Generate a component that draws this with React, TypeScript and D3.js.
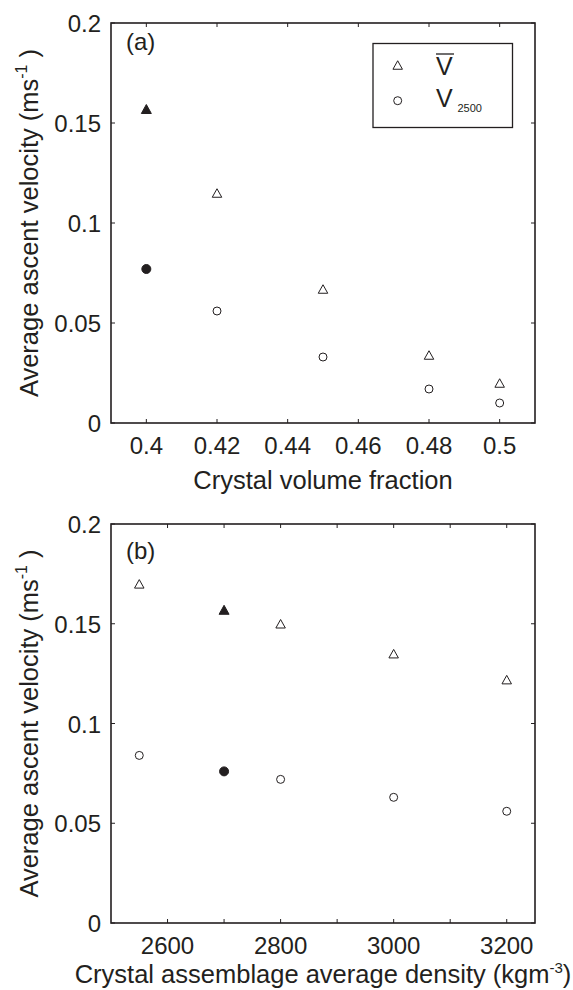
import React from "react";
import * as d3 from "d3";

const fracX = [0.4, 0.42, 0.45, 0.48, 0.5];
const fracVbar = [0.157, 0.115, 0.067, 0.034, 0.02];
const fracV2500 = [0.077, 0.056, 0.033, 0.017, 0.01];
const fracFilled = [true, false, false, false, false];
const fracTicks = [0.4, 0.42, 0.44, 0.46, 0.48, 0.5];
const fracTickLabels = ["0.4", "0.42", "0.44", "0.46", "0.48", "0.5"];

const densX = [2550, 2700, 2800, 3000, 3200];
const densVbar = [0.17, 0.157, 0.15, 0.135, 0.122];
const densV2500 = [0.084, 0.076, 0.072, 0.063, 0.056];
const densFilled = [false, true, false, false, false];
const densTicks = [2600, 2700, 2800, 2900, 3000, 3100, 3200];
const densTickLabels = ["2600", "", "2800", "", "3000", "", "3200"];

const yTicks = [0, 0.05, 0.1, 0.15, 0.2];
const yTickLabels = ["0", "0.05", "0.1", "0.15", "0.2"];

const FONT = "'Liberation Sans', Arial, Helvetica, sans-serif";
const INK = "#231f20";
const L = 111;
const R = 535;
const TITLE = 25.5;

function Triangle({ x, y, filled }: { x: number; y: number; filled: boolean }) {
  const w = filled ? 10 : 9.5;
  const h = filled ? 9 : 8.5;
  const p = `M${x},${y - h / 2}L${x + w / 2},${y + h / 2}L${x - w / 2},${y + h / 2}Z`;
  return <path d={p} fill={filled ? INK : "none"} stroke={INK} strokeWidth={1} strokeLinejoin="miter" />;
}

function Circle({ x, y, filled }: { x: number; y: number; filled: boolean }) {
  return <circle cx={x} cy={y} r={filled ? 4.5 : 4} fill={filled ? INK : "none"} stroke={INK} strokeWidth={1} />;
}

function Panel(props: {
  top: number;
  bottom: number;
  xDomain: [number, number];
  xs: number[];
  vbar: number[];
  v2500: number[];
  filled: boolean[];
  xTicks: number[];
  xTickLabels: string[];
  tag: string;
  tagY: number;
  xTitle: React.ReactNode;
  xTitleY: number;
  legend: boolean;
}) {
  const { top, bottom } = props;
  const x = d3.scaleLinear().domain(props.xDomain).range([L, R]);
  const y = d3.scaleLinear().domain([0, 0.2]).range([bottom, top]);
  const tl = 4;
  const cy = (top + bottom) / 2;
  return (
    <g fontFamily={FONT} fill={INK}>
      {props.xTicks.map((t, i) => (
        <g key={"xt" + i}>
          <line x1={x(t)} x2={x(t)} y1={bottom} y2={bottom - tl} stroke={INK} strokeWidth={1} />
          <line x1={x(t)} x2={x(t)} y1={top} y2={top + tl} stroke={INK} strokeWidth={1} />
          {props.xTickLabels[i] && (
            <text x={x(t)} y={bottom + 31} fontSize={24} textAnchor="middle">
              {props.xTickLabels[i]}
            </text>
          )}
        </g>
      ))}
      {yTicks.map((t, i) => (
        <g key={"yt" + i}>
          <line x1={L} x2={L + tl} y1={y(t)} y2={y(t)} stroke={INK} strokeWidth={1} />
          <line x1={R} x2={R - tl} y1={y(t)} y2={y(t)} stroke={INK} strokeWidth={1} />
          <text x={101} y={y(t) + 9} fontSize={24} textAnchor="end">
            {yTickLabels[i]}
          </text>
        </g>
      ))}
      <rect x={L} y={top} width={R - L} height={bottom - top} fill="none" stroke={INK} strokeWidth={1.6} />
      {props.xs.map((v, i) => (
        <g key={"p" + i}>
          <Triangle x={x(v)} y={y(props.vbar[i])} filled={props.filled[i]} />
          <Circle x={x(v)} y={y(props.v2500[i])} filled={props.filled[i]} />
        </g>
      ))}
      <text x={126} y={props.tagY} fontSize={24}>
        {props.tag}
      </text>
      <text x={323} y={props.xTitleY} fontSize={TITLE} textAnchor="middle">
        {props.xTitle}
      </text>
      <text transform={`translate(38,${cy}) rotate(-90)`} fontSize={TITLE} textAnchor="middle">
        Average ascent velocity (ms
        <tspan fontSize={16} dy={-11}>-1</tspan>
        <tspan dy={11}>&#160;)</tspan>
      </text>
      {props.legend && (
        <g>
          <rect x={373} y={43.5} width={139.5} height={84} fill="white" stroke={INK} strokeWidth={1.3} />
          <Triangle x={397.7} y={65} filled={false} />
          <Circle x={397.7} y={100.7} filled={false} />
          <line x1={436} x2={454} y1={54} y2={54} stroke={INK} strokeWidth={1.3} />
          <text x={436} y={74.5} fontSize={25}>V</text>
          <text x={436} y={106.7} fontSize={25}>V</text>
          <text x={457.5} y={111.7} fontSize={11}>2500</text>
        </g>
      )}
    </g>
  );
}

export default function App() {
  return (
    <svg
      width={573}
      height={990}
      style={{ position: "absolute", left: 0, top: 0, display: "block", background: "white" }}
    >
      <rect x={0} y={0} width={573} height={990} fill="white" />
      <Panel
        top={23}
        bottom={423}
        xDomain={[0.39, 0.51]}
        xs={fracX}
        vbar={fracVbar}
        v2500={fracV2500}
        filled={fracFilled}
        xTicks={fracTicks}
        xTickLabels={fracTickLabels}
        tag="(a)"
        tagY={50}
        xTitle="Crystal volume fraction"
        xTitleY={489}
        legend={true}
      />
      <Panel
        top={524}
        bottom={923}
        xDomain={[2500, 3250]}
        xs={densX}
        vbar={densVbar}
        v2500={densV2500}
        filled={densFilled}
        xTicks={densTicks}
        xTickLabels={densTickLabels}
        tag="(b)"
        tagY={559}
        xTitle={
          <>
            Crystal assemblage average density (kgm
            <tspan fontSize={15} dy={-10}>-3</tspan>
            <tspan dy={10}>)</tspan>
          </>
        }
        xTitleY={983}
        legend={false}
      />
    </svg>
  );
}
